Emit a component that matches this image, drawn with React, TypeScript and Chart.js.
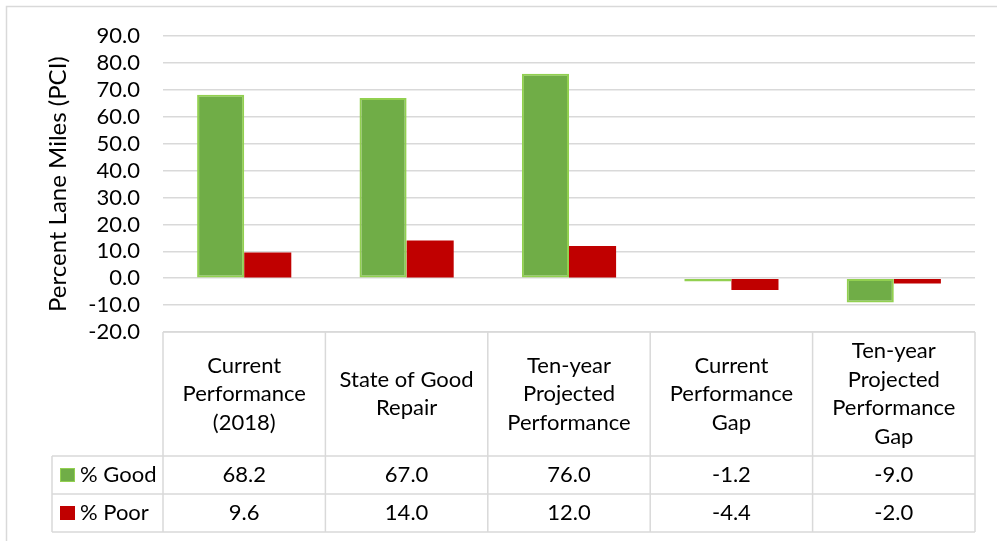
import React, { useEffect, useRef } from "react";
import { Chart, registerables } from "chart.js";

Chart.register(...registerables);

const categoryLines: string[][] = [
  ["Current", "Performance", "(2018)"],
  ["State of Good", "Repair"],
  ["Ten-year", "Projected", "Performance"],
  ["Current", "Performance", "Gap"],
  ["Ten-year", "Projected", "Performance", "Gap"],
];
const categories = categoryLines.map((l) => l.join(" "));
const goodValues = [68.2, 67.0, 76.0, -1.2, -9.0];
const poorValues = [9.6, 14.0, 12.0, -4.4, -2.0];
const seriesNames = ["% Good", "% Poor"];
const seriesColors = ["#70AD47", "#C00000"];
const seriesBorders = ["#92D050", "#C00000"];
const yTitle = "Percent Lane Miles (PCI)";
const yMin = -20;
const yMax = 90;
const yStep = 10;

const FONT = "Lato, 'Open Sans', sans-serif";
const GRID = "#D9D9D9";

const tablePlugin = {
  id: "dataTable",
  beforeDraw(chart: any) {
    const { ctx, width, height } = chart;
    ctx.save();
    ctx.fillStyle = "#fff";
    ctx.fillRect(0, 0, width, height);
    ctx.strokeStyle = GRID;
    ctx.lineWidth = 1.5;
    ctx.strokeRect(6.5, 6.5, width + 50, height + 50);
    ctx.restore();
  },
  afterDraw(chart: any) {
    const { ctx, chartArea, scales } = chart;
    const xs = scales.x;
    const n = categories.length;
    const colW = (chartArea.right - chartArea.left) / n;
    const top = chartArea.bottom;
    const headerBottom = top + 124;
    const rowH = 38;
    const legendLeft = 52;
    const rows = [goodValues, poorValues];
    ctx.save();
    ctx.strokeStyle = GRID;
    ctx.lineWidth = 1.5;
    ctx.beginPath();
    ctx.moveTo(chartArea.left, top);
    ctx.lineTo(chartArea.right, top);
    for (let r = 0; r <= rows.length; r++) {
      const y = headerBottom + r * rowH;
      ctx.moveTo(legendLeft, y);
      ctx.lineTo(chartArea.right, y);
    }
    ctx.moveTo(legendLeft, headerBottom);
    ctx.lineTo(legendLeft, headerBottom + rows.length * rowH);
    for (let i = 0; i < n; i++) {
      const cx = xs.getPixelForValue(i);
      const l = cx - colW / 2;
      ctx.moveTo(l, top);
      ctx.lineTo(l, headerBottom + rows.length * rowH);
      if (i === n - 1) {
        ctx.moveTo(l + colW, top);
        ctx.lineTo(l + colW, headerBottom + rows.length * rowH);
      }
    }
    ctx.stroke();

    ctx.fillStyle = "#000";
    ctx.font = `22px ${FONT}`;
    ctx.textAlign = "center";
    ctx.textBaseline = "middle";
    const lineH = 28.5;
    const headerMid = (top + headerBottom) / 2;
    for (let i = 0; i < n; i++) {
      const cx = xs.getPixelForValue(i);
      const lines = categoryLines[i];
      const startY = headerMid - ((lines.length - 1) * lineH) / 2;
      lines.forEach((t, k) => ctx.fillText(t, cx, startY + k * lineH));
      rows.forEach((vals, r) => {
        const cy = headerBottom + r * rowH + rowH / 2;
        ctx.fillText(vals[i].toFixed(1), cx, cy);
      });
    }
    ctx.textAlign = "left";
    rows.forEach((_, r) => {
      const cy = headerBottom + r * rowH + rowH / 2;
      ctx.fillStyle = seriesColors[r];
      ctx.fillRect(60, cy - 7, 15, 14);
      if (r === 0) {
        ctx.strokeStyle = seriesBorders[0];
        ctx.lineWidth = 1;
        ctx.strokeRect(60.5, cy - 6.5, 14, 13);
      }
      ctx.fillStyle = "#000";
      ctx.fillText(seriesNames[r], 80, cy);
    });
    ctx.restore();
  },
};

export default function App() {
  const ref = useRef<HTMLCanvasElement>(null);
  useEffect(() => {
    if (!ref.current) return;
    const chart = new Chart(ref.current, {
      type: "bar",
      data: {
        labels: categories,
        datasets: [
          {
            label: seriesNames[0],
            data: goodValues,
            backgroundColor: seriesColors[0],
            borderColor: seriesBorders[0],
            borderWidth: 2,
            borderSkipped: false,
            categoryPercentage: 0.58,
            barPercentage: 1.0,
          },
          {
            label: seriesNames[1],
            data: poorValues,
            backgroundColor: seriesColors[1],
            borderColor: seriesBorders[1],
            borderWidth: 0,
            categoryPercentage: 0.58,
            barPercentage: 1.0,
          },
        ],
      },
      options: {
        responsive: false,
        animation: false,
        layout: { padding: { top: 36, right: 22, bottom: 209, left: 0 } },
        plugins: {
          legend: { display: false },
          title: { display: false },
          tooltip: { enabled: false },
        },
        scales: {
          x: { display: false },
          y: {
            min: yMin,
            max: yMax,
            afterFit: (s: any) => {
              s.width = 163;
            },
            ticks: {
              stepSize: yStep,
              autoSkip: false,
              padding: 23,
              color: "#000",
              font: { family: FONT, size: 22 },
              callback: (v: any) => Number(v).toFixed(1),
            },
            grid: { color: GRID, lineWidth: 1.5, drawTicks: false },
            border: { display: false },
            title: {
              display: true,
              text: yTitle,
              color: "#000",
              font: { family: FONT, size: 24 },
              padding: { top: 44, bottom: 0 },
            },
          },
        },
      },
      plugins: [tablePlugin],
    });
    return () => chart.destroy();
  }, []);
  return (
    <canvas
      ref={ref}
      width={997}
      height={541}
      style={{ position: "fixed", left: 0, top: 0, width: 997, height: 541, display: "block" }}
    />
  );
}
